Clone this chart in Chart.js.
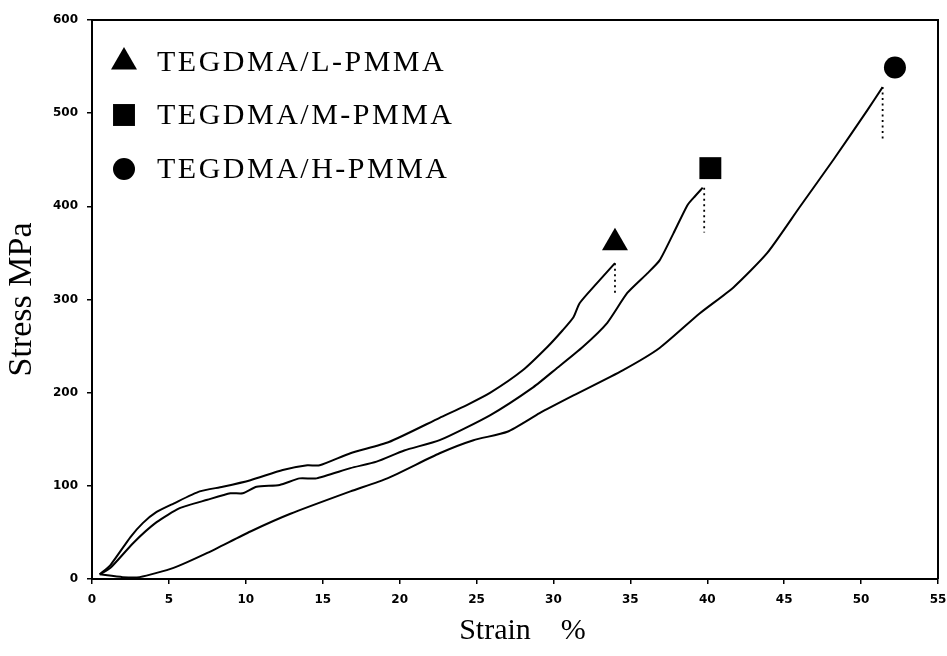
<!DOCTYPE html>
<html>
<head>
<meta charset="utf-8">
<script src="https://cdn.jsdelivr.net/npm/chart.js@4/dist/chart.umd.min.js"></script>
<style>
  html, body { margin: 0; padding: 0; background: #fff; }
  #wrap { width: 947px; height: 656px; }
</style>
</head>
<body>
<div id="wrap"><canvas id="grafico" width="947" height="656"></canvas></div>
<script>
// Curvas tensão x deformação
const seriesNames = ['TEGDMA/L-PMMA', 'TEGDMA/M-PMMA', 'TEGDMA/H-PMMA'];
const markerStyles = ['triangle', 'rect', 'circle'];

const strainL = [0.5, 1.2, 2.5, 3.3, 4.2, 5.3, 7.0, 8.5, 10.3, 12.4, 14.0, 14.8, 16.8, 19.3, 22.6, 24.4, 25.9, 28.0, 29.6, 30.6, 31.3, 31.7, 32.8, 34.0];
const stressL = [5, 15, 45, 60, 72, 81, 94, 99, 106, 117, 122, 122, 135, 147, 173, 187, 200, 224, 249, 267, 281, 296, 317, 339];

const strainM = [0.5, 1.2, 2.7, 4.2, 5.7, 7.5, 9.0, 9.8, 10.7, 12.2, 13.5, 14.6, 16.8, 18.5, 20.3, 22.6, 25.9, 28.7, 30.2, 31.9, 33.5, 34.8, 36.1, 36.9, 37.8, 38.7, 39.1, 39.7];
const stressM = [5, 12, 39, 61, 76, 85, 92, 92, 99, 101, 108, 108, 119, 126, 138, 149, 176, 206, 226, 249, 275, 307, 328, 342, 371, 401, 409, 420];

const strainH = [0.5, 2.0, 3.1, 5.3, 7.5, 10.3, 12.9, 16.8, 19.2, 22.6, 24.8, 27.0, 29.1, 31.3, 34.5, 36.9, 39.5, 41.7, 43.9, 46.0, 48.2, 50.4, 51.4];
const stressH = [5, 2, 2, 12, 28, 51, 70, 94, 108, 135, 149, 158, 178, 197, 224, 248, 285, 313, 350, 399, 450, 503, 528];

// pontos de ruptura (símbolos) e linhas pontilhadas
const breakStrain = [34.0, 40.2, 52.2];
const breakStress = [361, 441, 549];
const dropStrain = [34.0, 39.8, 51.4];
const dropTop = [339, 420, 528];
const dropBottom = [305, 372, 471];

const xTicks = [0, 5, 10, 15, 20, 25, 30, 35, 40, 45, 50, 55];
const yTicks = [0, 100, 200, 300, 400, 500, 600];

const toPoints = (xs, ys) => xs.map((x, i) => ({ x: x, y: ys[i] }));

const curves = [[strainL, stressL], [strainM, stressM], [strainH, stressH]];
const datasets = [];

curves.forEach(([xs, ys], i) => {
  datasets.push({
    label: seriesNames[i],
    data: toPoints(xs, ys),
    showLine: true,
    borderColor: '#000',
    borderWidth: 2,
    pointRadius: 0,
    tension: 0.2
  });
});

dropStrain.forEach((x, i) => {
  datasets.push({
    label: 'drop' + i,
    data: [{ x: x, y: dropTop[i] }, { x: x, y: dropBottom[i] }],
    showLine: true,
    borderColor: '#000',
    borderWidth: 1.8,
    borderDash: [2, 3.5],
    pointRadius: 0
  });
});

const markerRadius = { triangle: 15, rect: 15.5, circle: 11 };
breakStrain.forEach((x, i) => {
  datasets.push({
    label: 'mark' + i,
    data: [{ x: x, y: breakStress[i] }],
    showLine: false,
    pointStyle: markerStyles[i],
    pointRadius: markerRadius[markerStyles[i]],
    pointBackgroundColor: '#000',
    pointBorderColor: '#000',
    pointBorderWidth: 0
  });
});

// moldura superior e direita da área do gráfico
const moldura = {
  id: 'moldura',
  afterDraw(chart) {
    const { ctx, chartArea: a } = chart;
    ctx.save();
    ctx.strokeStyle = '#000';
    ctx.lineWidth = 2;
    ctx.beginPath();
    ctx.moveTo(a.left, a.top);
    ctx.lineTo(a.right, a.top);
    ctx.lineTo(a.right, a.bottom);
    ctx.stroke();
    ctx.restore();
  }
};

// legenda dentro da área do gráfico
const legendaInterna = {
  id: 'legendaInterna',
  afterDraw(chart) {
    const ctx = chart.ctx;
    const rows = [62, 115, 169];
    ctx.save();
    ctx.fillStyle = '#000';
    seriesNames.forEach((name, i) => {
      const style = markerStyles[i];
      Chart.helpers.drawPoint(ctx, {
        pointStyle: style,
        radius: markerRadius[style],
        borderWidth: 0,
        rotation: 0
      }, 124, rows[i]);
      ctx.font = '30px "Liberation Serif", "Times New Roman", serif';
      ctx.textBaseline = 'middle';
      ctx.textAlign = 'left';
      ctx.letterSpacing = '2.5px';
      ctx.fillText(name, 157, rows[i] + 1);
    });
    ctx.restore();
  }
};

const ctx = document.getElementById('grafico').getContext('2d');
new Chart(ctx, {
  type: 'scatter',
  data: { datasets: datasets },
  plugins: [moldura, legendaInterna],
  options: {
    responsive: false,
    devicePixelRatio: 1,
    animation: false,
    layout: { autoPadding: false, padding: { left: 0, top: 20, right: 0, bottom: 0 } },
    plugins: {
      legend: { display: false },
      tooltip: { enabled: false }
    },
    scales: {
      x: {
        type: 'linear',
        min: 0,
        max: 55,
        afterBuildTicks: scale => { scale.ticks = xTicks.map(v => ({ value: v })); },
        afterFit: scale => { scale.height = 77; scale.paddingLeft = 0; scale.paddingRight = 9; },
        border: { color: '#000', width: 2 },
        grid: { drawOnChartArea: false, color: '#000', tickLength: 5, lineWidth: 1.5 },
        ticks: {
          color: '#000',
          padding: 9,
          font: { family: '"DejaVu Sans", sans-serif', size: 12, weight: 'bold' }
        },
        title: {
          display: true,
          text: '  Strain    %',
          color: '#000',
          padding: { top: 0, bottom: 7 },
          font: { family: '"Liberation Serif", "Times New Roman", serif', size: 30 }
        }
      },
      y: {
        type: 'linear',
        min: 0,
        max: 600,
        afterBuildTicks: scale => { scale.ticks = yTicks.map(v => ({ value: v })); },
        afterFit: scale => { scale.width = 92; scale.paddingTop = 0; scale.paddingBottom = 0; },
        border: { color: '#000', width: 2 },
        grid: { drawOnChartArea: false, color: '#000', tickLength: 5, lineWidth: 1.5 },
        ticks: {
          color: '#000',
          padding: 9,
          font: { family: '"DejaVu Sans", sans-serif', size: 12, weight: 'bold' }
        },
        title: {
          display: true,
          text: 'Stress MPa',
          color: '#000',
          padding: { top: 2, bottom: 0 },
          font: { family: '"Liberation Serif", "Times New Roman", serif', size: 34 }
        }
      }
    }
  }
});
</script>
</body>
</html>
